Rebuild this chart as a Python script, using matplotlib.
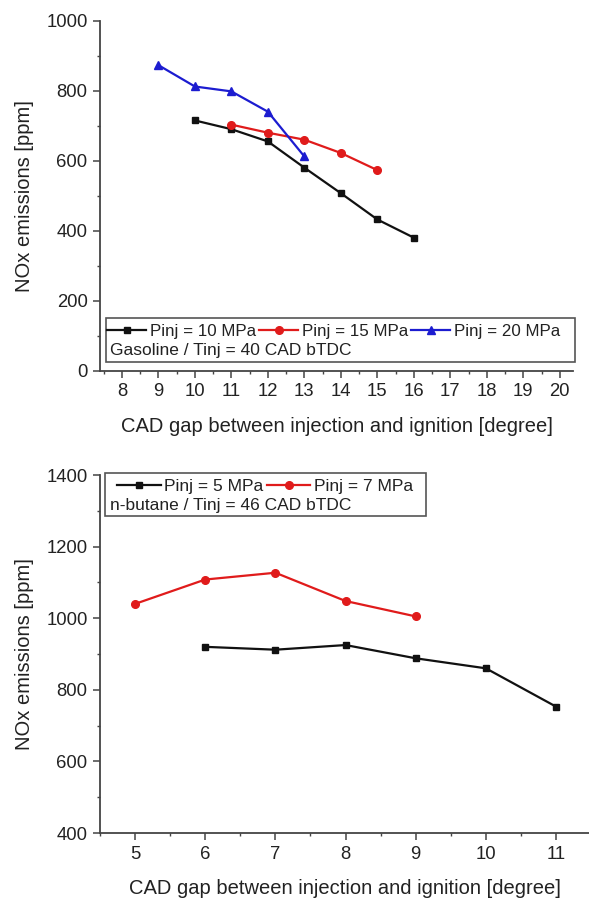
import matplotlib
matplotlib.use("Agg")
import matplotlib.pyplot as plt
from matplotlib.patches import Rectangle
from matplotlib.ticker import MultipleLocator

plt.rcParams["font.family"] = ["Liberation Sans", "DejaVu Sans"]

# ── Data: gasoline (top panel) ──────────────────────────
gas_x_10 = [10, 11, 12, 13, 14, 15, 16]
gas_y_10 = [715, 690, 655, 580, 507, 432, 380]
gas_x_15 = [11, 12, 13, 14, 15]
gas_y_15 = [703, 680, 660, 622, 573]
gas_x_20 = [9, 10, 11, 12, 13]
gas_y_20 = [873, 812, 798, 740, 612]

# ── Data: n-butane (bottom panel) ───────────────────────
but_x_5 = [6, 7, 8, 9, 10, 11]
but_y_5 = [920, 912, 925, 888, 860, 753]
but_x_7 = [5, 6, 7, 8, 9]
but_y_7 = [1040, 1108, 1127, 1048, 1005]

xlabel = "CAD gap between injection and ignition [degree]"
ylabel = "NOx emissions [ppm]"

BLACK = "#111111"
RED = "#e01b1b"
BLUE = "#1c1cd0"
AXC = "#444444"
TXT = "#222222"

W, H = 589, 905
fig = plt.figure(figsize=(W / 100, H / 100), dpi=100)


def style_axes(ax):
    for s in ["top", "right"]:
        ax.spines[s].set_visible(False)
    for s in ["left", "bottom"]:
        ax.spines[s].set_color(AXC)
        ax.spines[s].set_linewidth(1.3)
    ax.tick_params(which="major", direction="out", length=5, width=1.1,
                   color=AXC, labelsize=13.3, pad=4, labelcolor=TXT)
    ax.tick_params(which="minor", direction="out", length=2.5, width=1.0,
                   color=AXC)
    ax.set_xlabel(xlabel, fontsize=14.5, color=TXT, labelpad=12)
    ax.set_ylabel(ylabel, fontsize=14.5, color=TXT, labelpad=9)


def legend_box(ax, x0, y0, x1, y1):
    # frame drawn in figure pixels, above the data lines
    ax.add_patch(Rectangle((x0 / W, 1 - y1 / H), (x1 - x0) / W,
                           (y1 - y0) / H, transform=fig.transFigure,
                           facecolor="white", edgecolor="#555555",
                           lw=1.2, zorder=5, clip_on=False))


# ── Top panel ───────────────────────────────────────────
ax1 = fig.add_axes([100 / W, 1 - 370.7 / H, 473 / W, 350 / H])
ax1.plot(gas_x_10, gas_y_10, "-s", color=BLACK, ms=5, lw=1.6,
         label="Pinj = 10 MPa")
ax1.plot(gas_x_15, gas_y_15, "-o", color=RED, ms=5.5, lw=1.6,
         label="Pinj = 15 MPa")
ax1.plot(gas_x_20, gas_y_20, "-^", color=BLUE, ms=6, lw=1.6,
         label="Pinj = 20 MPa")
ax1.set_xlim(7.4, 20.36)
ax1.set_ylim(0, 1000)
ax1.xaxis.set_major_locator(MultipleLocator(1))
ax1.xaxis.set_minor_locator(MultipleLocator(0.5))
ax1.yaxis.set_major_locator(MultipleLocator(200))
ax1.yaxis.set_minor_locator(MultipleLocator(100))
style_axes(ax1)

legend_box(ax1, 106, 318, 575, 362)
leg1 = ax1.legend(loc="upper left", ncol=3, frameon=False,
                  bbox_to_anchor=((104 - 100) / 473, (370.7 - 321) / 350),
                  fontsize=12.2, handlelength=2.3, handletextpad=0.2,
                  columnspacing=0.2, borderaxespad=0, borderpad=0.2)
leg1.set_zorder(6)
for t in leg1.get_texts():
    t.set_color(TXT)
ax1.text((110 - 100) / 473, (370.7 - 351) / 350,
         "Gasoline / Tinj = 40 CAD bTDC", transform=ax1.transAxes,
         fontsize=12.5, va="center", ha="left", color=TXT, zorder=6)

# ── Bottom panel ────────────────────────────────────────
ax2 = fig.add_axes([100 / W, 1 - 833 / H, 489 / W, 358 / H])
ax2.plot(but_x_5, but_y_5, "-s", color=BLACK, ms=5, lw=1.6,
         label="Pinj = 5 MPa")
ax2.plot(but_x_7, but_y_7, "-o", color=RED, ms=5.5, lw=1.6,
         label="Pinj = 7 MPa")
ax2.set_xlim(4.5, 11.47)
ax2.set_ylim(400, 1400)
ax2.xaxis.set_major_locator(MultipleLocator(1))
ax2.xaxis.set_minor_locator(MultipleLocator(0.5))
ax2.yaxis.set_major_locator(MultipleLocator(200))
ax2.yaxis.set_minor_locator(MultipleLocator(100))
style_axes(ax2)

legend_box(ax2, 105, 473, 426, 516)
leg2 = ax2.legend(loc="upper left", ncol=2, frameon=False,
                  bbox_to_anchor=((114 - 100) / 489, (833 - 475) / 358),
                  fontsize=12.5, handlelength=2.5, handletextpad=0.2,
                  columnspacing=0.2, borderaxespad=0, borderpad=0.2)
leg2.set_zorder(6)
for t in leg2.get_texts():
    t.set_color(TXT)
ax2.text((110 - 100) / 489, (833 - 505) / 358,
         "n-butane / Tinj = 46 CAD bTDC", transform=ax2.transAxes,
         fontsize=12.5, va="center", ha="left", color=TXT, zorder=6)

fig.savefig("out.png", dpi=100)
